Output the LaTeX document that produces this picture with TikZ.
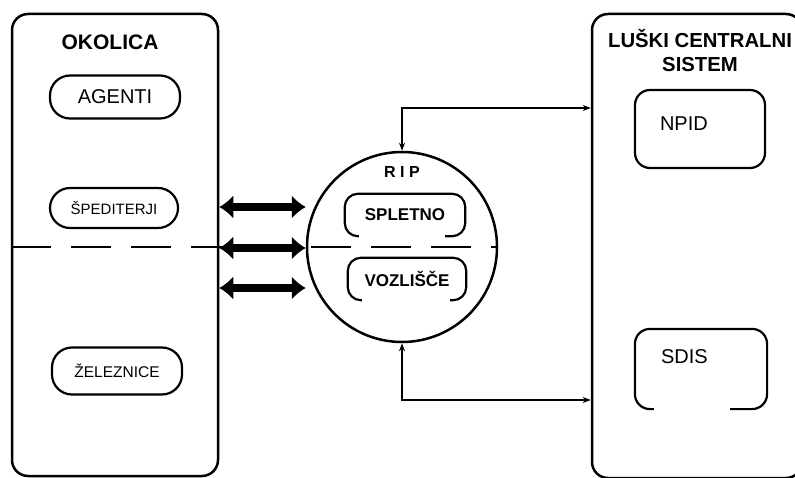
\documentclass[tikz,border=0pt]{standalone}
\usepackage{fontspec}
\setmainfont{Liberation Sans}
\usetikzlibrary{arrows.meta,calc}

\begin{document}
\begin{tikzpicture}[x=1pt,y=-1pt,
  bigbox/.style={draw, line width=2.5pt, rounded corners=16pt},
  pill/.style={draw, line width=2.2pt, rounded corners=20pt, inner sep=0pt},
  title/.style={font=\bfseries\fontsize{21}{24}\selectfont, align=center},
  inbox/.style={font=\bfseries\fontsize{17}{20}\selectfont, minimum height=42pt},
  openframe/.style={line width=2.2pt, rounded corners=13pt},
  portbox/.style={line width=2.2pt, rounded corners=15pt, text width=80pt, align=left, inner xsep=25pt, minimum height=78pt, font=\fontsize{20}{24}\selectfont},
  link/.style={line width=2pt, {Stealth[length=8pt,width=6pt]}-{Stealth[length=8pt,width=6pt]}},
  dblarrow/.style={line width=8pt, {Latex[length=14pt,width=24pt]}-{Latex[length=14pt,width=24pt]}}
]
\useasboundingbox (0,0) rectangle (795,478);
\clip (0,0) rectangle (795,478);

% main blocks
\node[bigbox, minimum width=206pt, minimum height=462pt] (okolica) at (115,245) {};
\node[bigbox, minimum width=210pt, minimum height=464pt] (lcs) at (697,246) {};
\node[draw, circle, line width=2.5pt, minimum size=190pt] (rip) at (402,247) {};

% titles
\node[title] (okolicatitle) at (110,42) {OKOLICA};
\node[title, font=\bfseries\fontsize{20.3}{24}\selectfont] (lcstitle) at (700,51) {LUŠKI CENTRALNI\\SISTEM};
\node[title, font=\bfseries\fontsize{16}{18}\selectfont] (riptitle) at (402,172) {R I P};

% environment
\node[pill, minimum width=130pt, minimum height=43pt, font=\fontsize{20}{24}\selectfont] (agenti) at (115,97) {AGENTI};
\node[pill, minimum width=128pt, minimum height=40pt, font=\fontsize{15}{18}\selectfont] (spediterji) at (114,208) {ŠPEDITERJI};
\node[pill, minimum width=130pt, minimum height=47pt, font=\fontsize{15.5}{18}\selectfont] (zeleznice) at (117,371) {ŽELEZNICE};

% web node
\node[inbox, minimum width=120pt] (spletno) at (405,215) {SPLETNO};
\node[inbox, minimum width=118pt] (vozlisce) at (407,279) {VOZLIŠČE};
\draw[openframe] ($(spletno.south west)+(14,0)$) -- (spletno.south west) -- (spletno.north west)
  -- (spletno.north east) -- (spletno.south east) -- ($(spletno.south east)+(-20,0)$);
\draw[openframe] ($(vozlisce.south west)+(14,0)$) -- (vozlisce.south west) -- (vozlisce.north west)
  -- (vozlisce.north east) -- (vozlisce.south east) -- ($(vozlisce.south east)+(-16,0)$);

% port system
\node[portbox, draw, text depth=10pt] (npid) at (700,129) {NPID};
\node[portbox, text depth=24pt] (sdis) at (701,369) {SDIS};
\draw[openframe, rounded corners=15pt] ($(sdis.south west)+(19,0)$) -- (sdis.south west) -- (sdis.north west)
  -- (sdis.north east) -- (sdis.south east) -- ($(sdis.south east)+(-37,0)$);

% links
\draw[line width=2.5pt, dash pattern=on 40pt off 20pt] (okolica.west |- rip.center) -- (rip.east);
\foreach \y in {207,248,288}
  \draw[dblarrow] (okolica.east |- 0,\y) -- (rip.west |- 0,\y);

\coordinate (topin) at (lcs.west |- 0,108);
\coordinate (botin) at (lcs.west |- 0,400);
\draw[link] (rip.north) |- (topin);
\draw[link] (rip.south) |- (botin);
\end{tikzpicture}
\end{document}
